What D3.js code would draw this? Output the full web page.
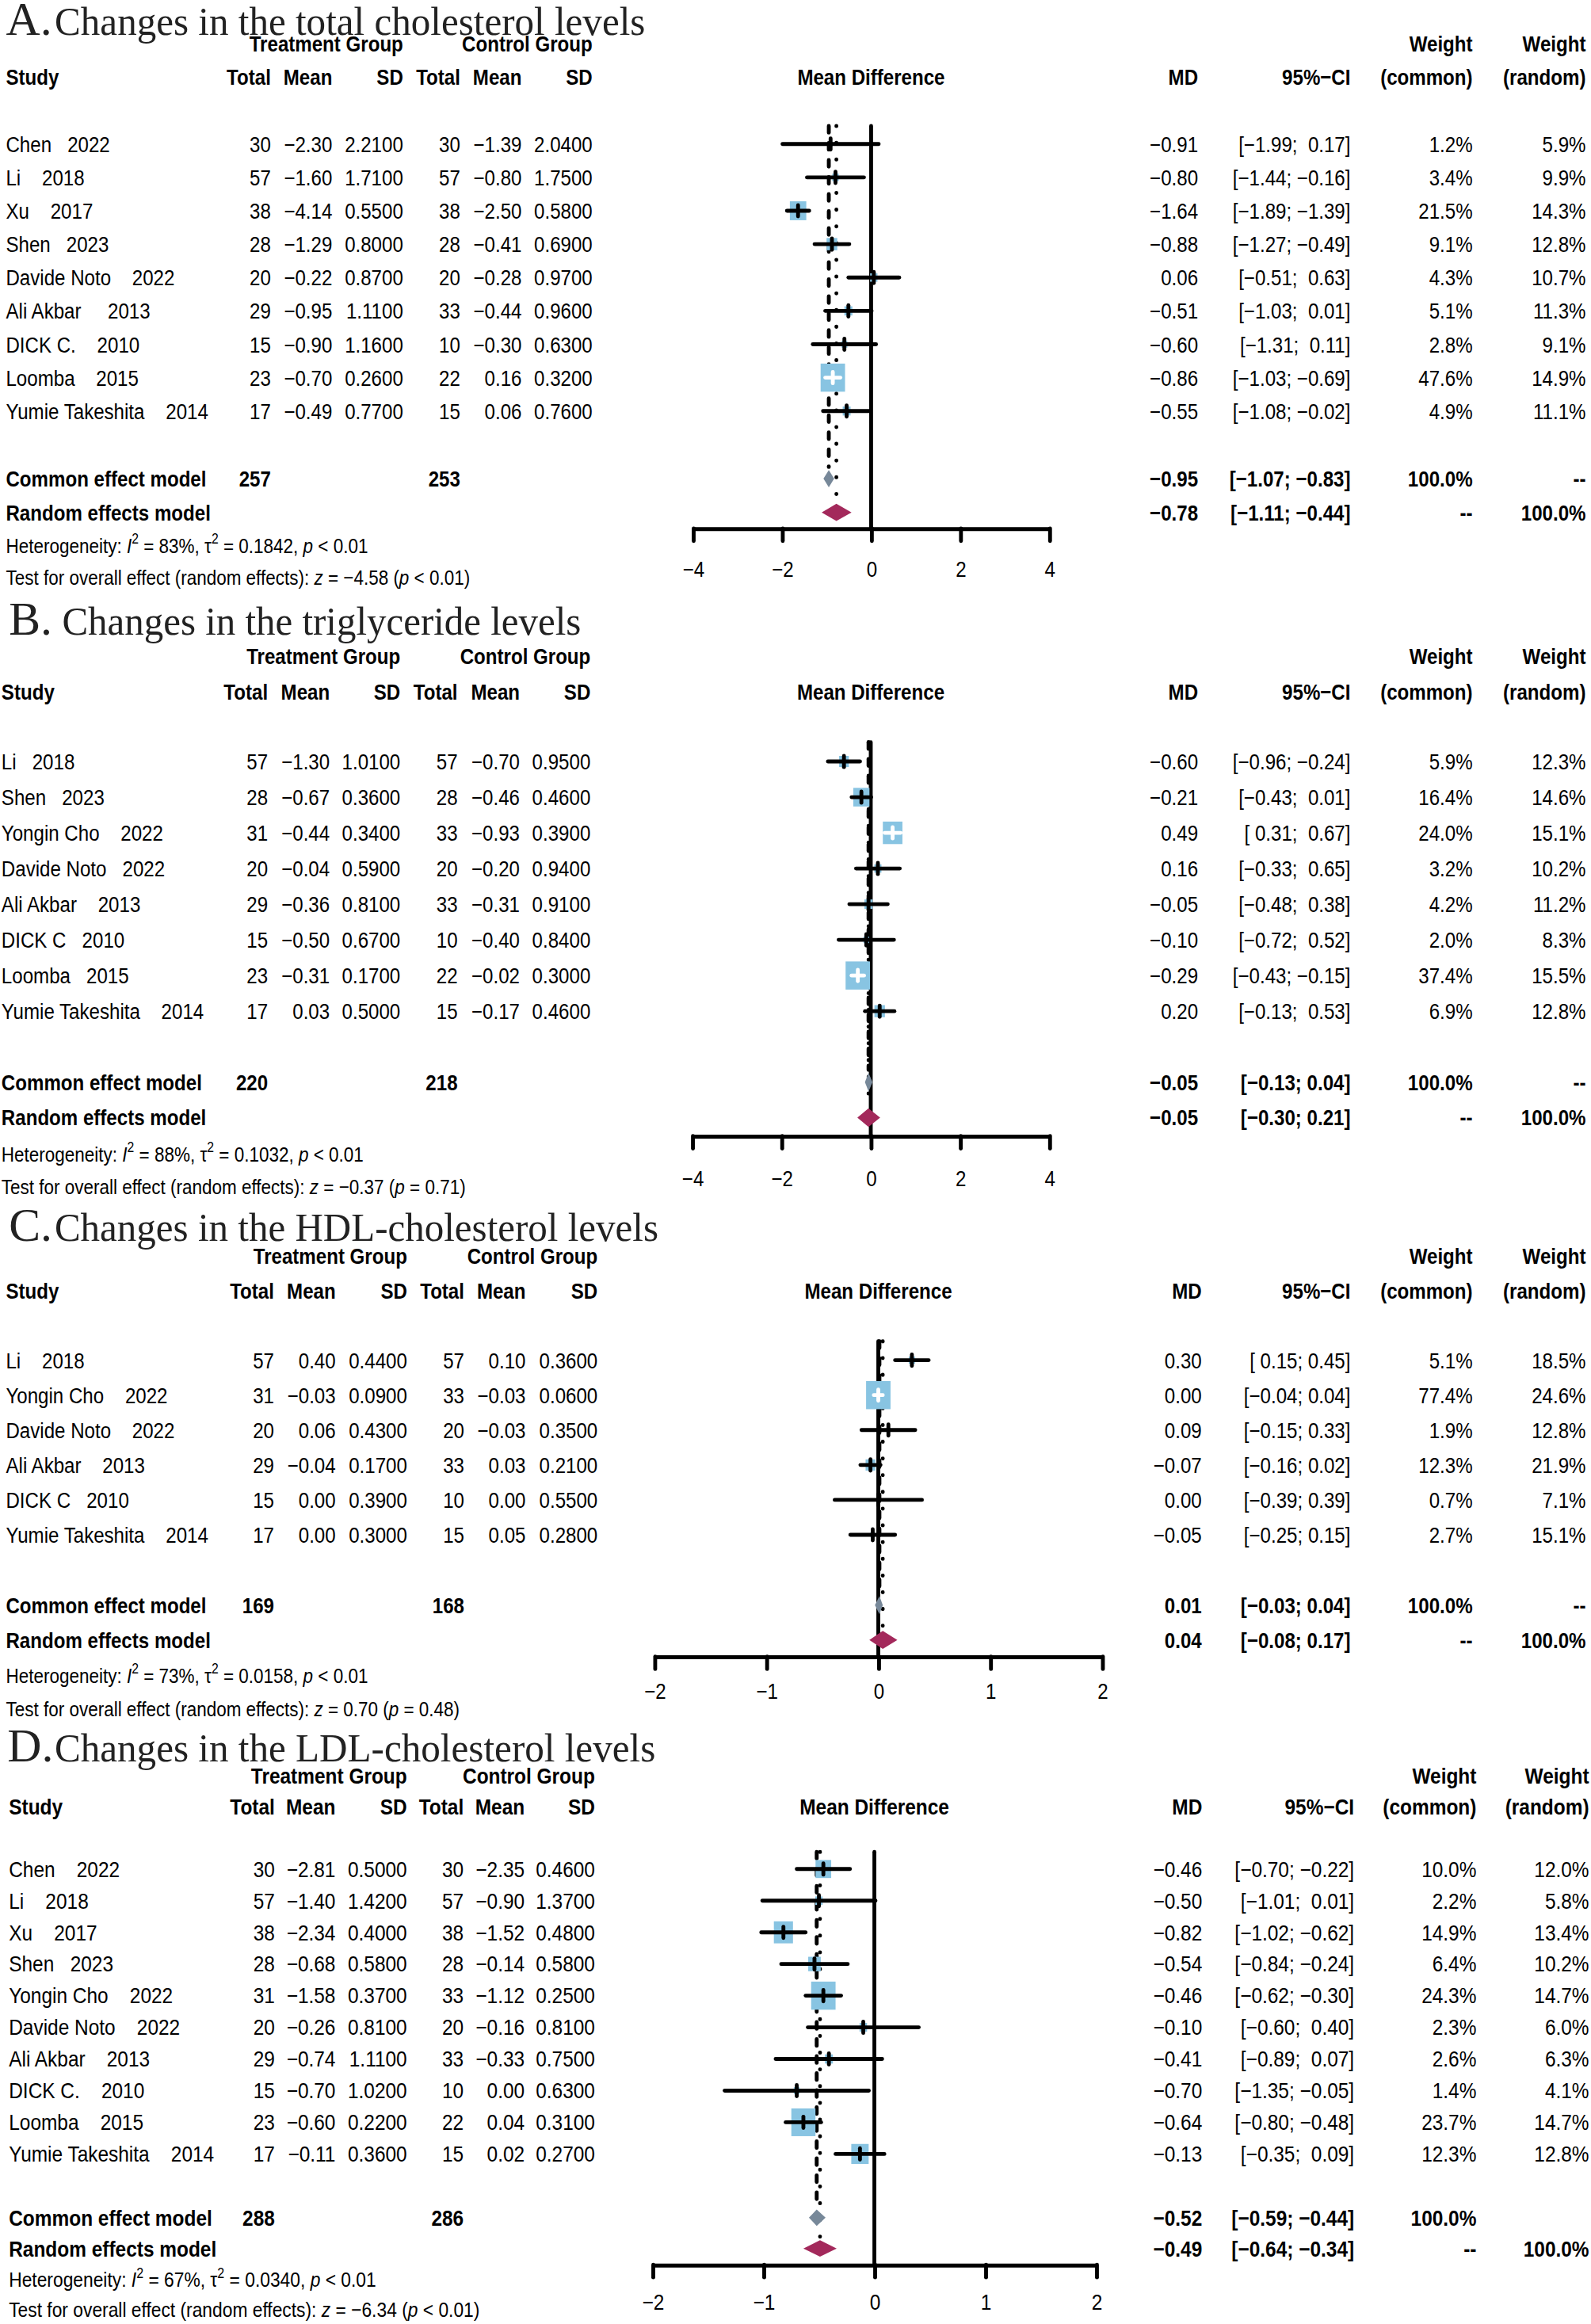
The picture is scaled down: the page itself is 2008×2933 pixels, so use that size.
<!DOCTYPE html>
<html>
<head>
<meta charset="utf-8">
<script src="https://cdn.jsdelivr.net/npm/d3@7"></script>
<style>
  body { margin: 0; background: #fff; }
  text { white-space: pre; }
</style>
</head>
<body>
<div id="chart"></div>
<script>
// ---------- A. total cholesterol ----------
const aStudies = ['Chen   2022', 'Li    2018', 'Xu    2017', 'Shen   2023', 'Davide Noto    2022',
  'Ali Akbar     2013', 'DICK C.    2010', 'Loomba    2015', 'Yumie Takeshita    2014']
const aTN = [30, 57, 38, 28, 20, 29, 15, 23, 17]
const aTMean = [-2.30, -1.60, -4.14, -1.29, -0.22, -0.95, -0.90, -0.70, -0.49]
const aTSD = [2.21, 1.71, 0.55, 0.80, 0.87, 1.11, 1.16, 0.26, 0.77]
const aCN = [30, 57, 38, 28, 20, 33, 10, 22, 15]
const aCMean = [-1.39, -0.80, -2.50, -0.41, -0.28, -0.44, -0.30, 0.16, 0.06]
const aCSD = [2.04, 1.75, 0.58, 0.69, 0.97, 0.96, 0.63, 0.32, 0.76]
const aMD = [-0.91, -0.80, -1.64, -0.88, 0.06, -0.51, -0.60, -0.86, -0.55]
const aLo = [-1.99, -1.44, -1.89, -1.27, -0.51, -1.03, -1.31, -1.03, -1.08]
const aHi = [0.17, -0.16, -1.39, -0.49, 0.63, 0.01, 0.11, -0.69, -0.02]
const aWC = [1.2, 3.4, 21.5, 9.1, 4.3, 5.1, 2.8, 47.6, 4.9]
const aWR = [5.9, 9.9, 14.3, 12.8, 10.7, 11.3, 9.1, 14.9, 11.1]
const aTotals = [257, 253]
const aCommon = [-0.95, -1.07, -0.83]
const aRandom = [-0.78, -1.11, -0.44]
const aHet = ['83%', '0.1842', '< 0.01']
const aTest = [-4.58, '< 0.01']
const aTicks = [-4, -2, 0, 2, 4]

// ---------- B. triglyceride ----------
const bStudies = ['Li   2018', 'Shen   2023', 'Yongin Cho    2022', 'Davide Noto   2022', 'Ali Akbar    2013',
  'DICK C   2010', 'Loomba   2015', 'Yumie Takeshita    2014']
const bTN = [57, 28, 31, 20, 29, 15, 23, 17]
const bTMean = [-1.30, -0.67, -0.44, -0.04, -0.36, -0.50, -0.31, 0.03]
const bTSD = [1.01, 0.36, 0.34, 0.59, 0.81, 0.67, 0.17, 0.50]
const bCN = [57, 28, 33, 20, 33, 10, 22, 15]
const bCMean = [-0.70, -0.46, -0.93, -0.20, -0.31, -0.40, -0.02, -0.17]
const bCSD = [0.95, 0.46, 0.39, 0.94, 0.91, 0.84, 0.30, 0.46]
const bMD = [-0.60, -0.21, 0.49, 0.16, -0.05, -0.10, -0.29, 0.20]
const bLo = [-0.96, -0.43, 0.31, -0.33, -0.48, -0.72, -0.43, -0.13]
const bHi = [-0.24, 0.01, 0.67, 0.65, 0.38, 0.52, -0.15, 0.53]
const bWC = [5.9, 16.4, 24.0, 3.2, 4.2, 2.0, 37.4, 6.9]
const bWR = [12.3, 14.6, 15.1, 10.2, 11.2, 8.3, 15.5, 12.8]
const bTotals = [220, 218]
const bCommon = [-0.05, -0.13, 0.04]
const bRandom = [-0.05, -0.30, 0.21]
const bHet = ['88%', '0.1032', '< 0.01']
const bTest = [-0.37, '= 0.71']
const bTicks = [-4, -2, 0, 2, 4]

// ---------- C. HDL-cholesterol ----------
const cStudies = ['Li    2018', 'Yongin Cho    2022', 'Davide Noto    2022', 'Ali Akbar    2013',
  'DICK C   2010', 'Yumie Takeshita    2014']
const cTN = [57, 31, 20, 29, 15, 17]
const cTMean = [0.40, -0.03, 0.06, -0.04, 0.00, 0.00]
const cTSD = [0.44, 0.09, 0.43, 0.17, 0.39, 0.30]
const cCN = [57, 33, 20, 33, 10, 15]
const cCMean = [0.10, -0.03, -0.03, 0.03, 0.00, 0.05]
const cCSD = [0.36, 0.06, 0.35, 0.21, 0.55, 0.28]
const cMD = [0.30, 0.00, 0.09, -0.07, 0.00, -0.05]
const cLo = [0.15, -0.04, -0.15, -0.16, -0.39, -0.25]
const cHi = [0.45, 0.04, 0.33, 0.02, 0.39, 0.15]
const cWC = [5.1, 77.4, 1.9, 12.3, 0.7, 2.7]
const cWR = [18.5, 24.6, 12.8, 21.9, 7.1, 15.1]
const cTotals = [169, 168]
const cCommon = [0.01, -0.03, 0.04]
const cRandom = [0.04, -0.08, 0.17]
const cHet = ['73%', '0.0158', '< 0.01']
const cTest = [0.70, '= 0.48']
const cTicks = [-2, -1, 0, 1, 2]

// ---------- D. LDL-cholesterol ----------
const dStudies = ['Chen    2022', 'Li    2018', 'Xu    2017', 'Shen   2023', 'Yongin Cho    2022',
  'Davide Noto    2022', 'Ali Akbar    2013', 'DICK C.    2010', 'Loomba    2015', 'Yumie Takeshita    2014']
const dTN = [30, 57, 38, 28, 31, 20, 29, 15, 23, 17]
const dTMean = [-2.81, -1.40, -2.34, -0.68, -1.58, -0.26, -0.74, -0.70, -0.60, -0.11]
const dTSD = [0.50, 1.42, 0.40, 0.58, 0.37, 0.81, 1.11, 1.02, 0.22, 0.36]
const dCN = [30, 57, 38, 28, 33, 20, 33, 10, 22, 15]
const dCMean = [-2.35, -0.90, -1.52, -0.14, -1.12, -0.16, -0.33, 0.00, 0.04, 0.02]
const dCSD = [0.46, 1.37, 0.48, 0.58, 0.25, 0.81, 0.75, 0.63, 0.31, 0.27]
const dMD = [-0.46, -0.50, -0.82, -0.54, -0.46, -0.10, -0.41, -0.70, -0.64, -0.13]
const dLo = [-0.70, -1.01, -1.02, -0.84, -0.62, -0.60, -0.89, -1.35, -0.80, -0.35]
const dHi = [-0.22, 0.01, -0.62, -0.24, -0.30, 0.40, 0.07, -0.05, -0.48, 0.09]
const dWC = [10.0, 2.2, 14.9, 6.4, 24.3, 2.3, 2.6, 1.4, 23.7, 12.3]
const dWR = [12.0, 5.8, 13.4, 10.2, 14.7, 6.0, 6.3, 4.1, 14.7, 12.8]
const dTotals = [288, 286]
const dCommon = [-0.52, -0.59, -0.44]
const dRandom = [-0.49, -0.64, -0.34]
const dHet = ['67%', '0.0340', '< 0.01']
const dTest = [-6.34, '< 0.01']
const dTicks = [-2, -1, 0, 1, 2]

const W = 2008, H = 2933
const S = W / 1075           // layout below is in 1075-wide units
const SANS = "'Liberation Sans', Arial, sans-serif"
const SERIF = "'Liberation Serif', 'Times New Roman', serif"
const BLUE = '#88c4e2', GREY = '#778899', RED = '#a3295b'
const LW = 2.6

const f2 = d3.format('.2f'), f4 = d3.format('.4f'), pct = d => d3.format('.1f')(d) + '%'

const panels = [
  {
    letter: 'A.', title: 'Changes in the total cholesterol levels',
    st: aStudies, tN: aTN, tM: aTMean, tS: aTSD, cN: aCN, cM: aCMean, cS: aCSD,
    md: aMD, lo: aLo, hi: aHi, wc: aWC, wr: aWR, tot: aTotals, com: aCommon, ran: aRandom,
    het: aHet, test: aTest, ticks: aTicks, dom: [-4, 4], comDash: true,
    L: { ty: 23.5, lx: 4, tx: 37, tw: 399, h1: 29.4, h2: 51.7, row0: 97.3, rowH: 22.55,
      yCom: 323.4, yRan: 346.2, yHet: 368.5, yTest: 389.9, axisY: 357, labOff: 27.6, sx0: 4,
      cols: [183, 224.5, 272.4, 311, 352.5, 400.3], rc: [809.5, 912.5, 995, 1071.5],
      xr: [468.2, 709], fs: 15, sx: 0.86 }
  },
  {
    letter: 'B.', title: 'Changes in the triglyceride levels',
    st: bStudies, tN: bTN, tM: bTMean, tS: bTSD, cN: bCN, cM: bCMean, cS: bCSD,
    md: bMD, lo: bLo, hi: bHi, wc: bWC, wr: bWR, tot: bTotals, com: bCommon, ran: bRandom,
    het: bHet, test: bTest, ticks: bTicks, dom: [-4, 4], comDash: true,
    L: { ty: 429, lx: 6, tx: 42, tw: 350.6, h1: 443.2, h2: 467.1, row0: 514.5, rowH: 24.1,
      yCom: 731.2, yRan: 755.1, yHet: 779.8, yTest: 801.9, axisY: 767.5, labOff: 28.6, sx0: 1,
      cols: [181, 222.8, 270.5, 309.2, 351.2, 399], rc: [809.5, 912.5, 995, 1071.5],
      xr: [467.7, 709], fs: 15, sx: 0.86 }
  },
  {
    letter: 'C.', title: 'Changes in the HDL-cholesterol levels',
    st: cStudies, tN: cTN, tM: cTMean, tS: cTSD, cN: cCN, cM: cCMean, cS: cCSD,
    md: cMD, lo: cLo, hi: cHi, wc: cWC, wr: cWR, tot: cTotals, com: cCommon, ran: cRandom,
    het: cHet, test: cTest, ticks: cTicks, dom: [-2, 2], comDash: true,
    L: { ty: 838.5, lx: 6, tx: 36.9, tw: 408, h1: 848.7, h2: 872, row0: 919, rowH: 23.6,
      yCom: 1084.5, yRan: 1108, yHet: 1132, yTest: 1154.5, axisY: 1119.2, labOff: 23.4, sx0: 4,
      cols: [185.2, 226.8, 275.1, 313.7, 355.2, 403.8], rc: [812, 912.5, 995, 1071.5],
      xr: [442.2, 744.7], fs: 15, sx: 0.86 }
  },
  {
    letter: 'D.', title: 'Changes in the LDL-cholesterol levels',
    st: dStudies, tN: dTN, tM: dTMean, tS: dTSD, cN: dCN, cM: dCMean, cS: dCSD,
    md: dMD, lo: dLo, hi: dHi, wc: dWC, wr: dWR, tot: dTotals, com: dCommon, ran: dRandom,
    het: dHet, test: dTest, ticks: dTicks, dom: [-2, 2], comDash: false,
    L: { ty: 1190.2, lx: 5, tx: 36.9, tw: 406, h1: 1199.8, h2: 1220.8, row0: 1262.8, rowH: 21.39,
      yCom: 1498.4, yRan: 1519.2, yHet: 1540.4, yTest: 1560.4, axisY: 1530.2, labOff: 25.2, sx0: 6,
      cols: [185.7, 226.7, 275, 313.3, 354.5, 402], rc: [812.3, 915, 997.6, 1073.7],
      xr: [440.9, 740.7], fs: 14.7, sx: 0.89 }
  }
]

const svg = d3.select('#chart').append('svg')
  .attr('width', W).attr('height', H)
svg.append('rect').attr('width', W).attr('height', H).attr('fill', '#fff')
const root = svg.append('g').attr('transform', `scale(${S})`)

// text centred vertically on y, squeezed horizontally like the narrow font of the figure
function txt (g, x, y, s, o) {
  return g.append('text')
    .attr('transform', `translate(${x},${y + 0.358 * o.fs}) scale(${o.sx},1)`)
    .attr('text-anchor', o.anchor || 'start')
    .attr('font-family', SANS)
    .attr('font-size', o.fs)
    .attr('font-weight', o.bold ? 'bold' : 'normal')
    .attr('fill', '#000')
    .text(s)
}

function ciText (lo, hi, padLo, padHi) {
  return '[' + (padLo && lo >= 0 ? ' ' : '') + f2(lo) + '; ' + (padHi && hi >= 0 ? ' ' : '') + f2(hi) + ']'
}

function drawPanel (p) {
  const L = p.L
  const g = root.append('g')
  const base = { fs: L.fs, sx: L.sx }
  const R = Object.assign({}, base, { anchor: 'end' })
  const RB = Object.assign({}, R, { bold: true })
  const B = Object.assign({}, base, { bold: true })

  // title
  g.append('text').attr('x', L.lx).attr('y', L.ty)
    .attr('font-family', SERIF).attr('font-size', 32).attr('fill', '#222').text(p.letter)
  g.append('text').attr('x', L.tx).attr('y', L.ty)
    .attr('font-family', SERIF).attr('font-size', 27).attr('fill', '#222')
    .attr('textLength', L.tw).attr('lengthAdjust', 'spacingAndGlyphs').text(p.title)

  // column headers
  txt(g, L.cols[2], L.h1, 'Treatment Group', RB)
  txt(g, L.cols[5], L.h1, 'Control Group', RB)
  txt(g, L.rc[2], L.h1, 'Weight', RB)
  txt(g, L.rc[3], L.h1, 'Weight', RB)
  txt(g, L.sx0, L.h2, 'Study', B)
  const heads = ['Total', 'Mean', 'SD', 'Total', 'Mean', 'SD']
  heads.forEach((h, i) => txt(g, L.cols[i], L.h2, h, RB))
  const x = d3.scaleLinear().domain(p.dom).range(L.xr)
  txt(g, (L.xr[0] + L.xr[1]) / 2, L.h2, 'Mean Difference', Object.assign({}, B, { anchor: 'middle' }))
  txt(g, L.rc[0], L.h2, 'MD', RB)
  txt(g, L.rc[1], L.h2, '95%\u2212CI', RB)
  txt(g, L.rc[2], L.h2, '(common)', RB)
  txt(g, L.rc[3], L.h2, '(random)', RB)

  // study rows
  const n = p.st.length
  const y = d3.scaleLinear().domain([0, n - 1]).range([L.row0, L.row0 + (n - 1) * L.rowH])
  const padLo = p.lo.some(v => v < 0), padHi = p.hi.some(v => v < 0)
  p.st.forEach((s, i) => {
    const yy = y(i)
    txt(g, L.sx0, yy, s, base)
    txt(g, L.cols[0], yy, String(p.tN[i]), R)
    txt(g, L.cols[1], yy, f2(p.tM[i]), R)
    txt(g, L.cols[2], yy, f4(p.tS[i]), R)
    txt(g, L.cols[3], yy, String(p.cN[i]), R)
    txt(g, L.cols[4], yy, f2(p.cM[i]), R)
    txt(g, L.cols[5], yy, f4(p.cS[i]), R)
    txt(g, L.rc[0], yy, f2(p.md[i]), R)
    txt(g, L.rc[1], yy, ciText(p.lo[i], p.hi[i], padLo, padHi), R)
    txt(g, L.rc[2], yy, pct(p.wc[i]), R)
    txt(g, L.rc[3], yy, pct(p.wr[i]), R)
  })

  // pooled rows
  txt(g, L.sx0, L.yCom, 'Common effect model', B)
  txt(g, L.cols[0], L.yCom, String(p.tot[0]), RB)
  txt(g, L.cols[3], L.yCom, String(p.tot[1]), RB)
  txt(g, L.rc[0], L.yCom, f2(p.com[0]), RB)
  txt(g, L.rc[1], L.yCom, ciText(p.com[1], p.com[2]), RB)
  txt(g, L.rc[2], L.yCom, '100.0%', RB)
  if (p.comDash) txt(g, L.rc[3], L.yCom, '--', RB)
  txt(g, L.sx0, L.yRan, 'Random effects model', B)
  txt(g, L.rc[0], L.yRan, f2(p.ran[0]), RB)
  txt(g, L.rc[1], L.yRan, ciText(p.ran[1], p.ran[2]), RB)
  txt(g, L.rc[2], L.yRan, '--', RB)
  txt(g, L.rc[3], L.yRan, '100.0%', RB)

  // heterogeneity and overall test
  const sm = { fs: 14 * L.fs / 15, sx: L.sx }
  const sup = sm.fs * 0.45
  const ht = txt(g, L.sx0, L.yHet, null, sm)
  ht.append('tspan').text('Heterogeneity: ')
  ht.append('tspan').attr('font-style', 'italic').text('I')
  ht.append('tspan').attr('font-size', sm.fs * 0.7).attr('dy', -sup).text('2')
  ht.append('tspan').attr('dy', sup).text(' = ' + p.het[0] + ', \u03c4')
  ht.append('tspan').attr('font-size', sm.fs * 0.7).attr('dy', -sup).text('2')
  ht.append('tspan').attr('dy', sup).text(' = ' + p.het[1] + ', ')
  ht.append('tspan').attr('font-style', 'italic').text('p')
  ht.append('tspan').text(' ' + p.het[2])
  const tt = txt(g, L.sx0, L.yTest, null, sm)
  tt.append('tspan').text('Test for overall effect (random effects): ')
  tt.append('tspan').attr('font-style', 'italic').text('z')
  tt.append('tspan').text(' = ' + f2(p.test[0]) + ' (')
  tt.append('tspan').attr('font-style', 'italic').text('p')
  tt.append('tspan').text(' ' + p.test[1] + ')')

  // forest plot
  const fg = g.append('g')
  const top = L.row0 - 0.54 * L.rowH
  const dh = 0.52 * L.rowH
  fg.append('line').attr('x1', x(0)).attr('x2', x(0)).attr('y1', top).attr('y2', L.axisY)
    .attr('stroke', '#000').attr('stroke-width', LW).attr('stroke-linecap', 'round')
  fg.append('line').attr('x1', x(p.com[0])).attr('x2', x(p.com[0]))
    .attr('y1', top).attr('y2', L.yCom - dh / 2 - 2)
    .attr('stroke', '#000').attr('stroke-width', LW).attr('stroke-linecap', 'round')
    .attr('stroke-dasharray', '4.5,7')
  fg.append('line').attr('x1', x(p.ran[0])).attr('x2', x(p.ran[0]))
    .attr('y1', top).attr('y2', L.yRan - dh / 2 - 2)
    .attr('stroke', '#000').attr('stroke-width', LW).attr('stroke-linecap', 'round')
    .attr('stroke-dasharray', '0.1,11.2')

  const sq = d3.scaleSqrt().domain([0, d3.max(p.wc)]).range([0, 1])
  p.st.forEach((s, i) => {
    const yy = y(i), cx = x(p.md[i])
    const w = 16.5 * sq(p.wc[i]), h = 19 * sq(p.wc[i])
    fg.append('rect').attr('x', cx - w / 2).attr('y', yy - h / 2)
      .attr('width', w).attr('height', h).attr('fill', BLUE)
    const inside = x(p.lo[i]) >= cx - w / 2 && x(p.hi[i]) <= cx + w / 2
    const col = inside ? '#fff' : '#000'
    fg.append('line').attr('x1', x(p.lo[i])).attr('x2', x(p.hi[i])).attr('y1', yy).attr('y2', yy)
      .attr('stroke', col).attr('stroke-width', LW).attr('stroke-linecap', 'round')
    fg.append('line').attr('x1', cx).attr('x2', cx).attr('y1', yy - 3.8).attr('y2', yy + 3.8)
      .attr('stroke', col).attr('stroke-width', LW).attr('stroke-linecap', 'round')
  })

  const diamond = (v, yy, fill) => {
    const pts = [[x(v[1]), yy], [x(v[0]), yy - dh / 2], [x(v[2]), yy], [x(v[0]), yy + dh / 2]]
    fg.append('polygon').attr('points', pts.map(d => d.join(',')).join(' ')).attr('fill', fill)
  }
  diamond(p.com, L.yCom, GREY)
  diamond(p.ran, L.yRan, RED)

  // axis
  const tickLen = 8.5
  const axis = d3.axisBottom(x).tickValues(p.ticks).tickFormat(d3.format('d'))
    .tickSize(tickLen).tickSizeOuter(0).tickPadding(L.labOff - tickLen - 0.352 * L.fs)
  const ag = fg.append('g').attr('transform', `translate(0,${L.axisY})`).call(axis)
  ag.select('.domain').attr('stroke', '#000').attr('stroke-width', LW)
  ag.selectAll('.tick line').attr('stroke', '#000').attr('stroke-width', LW).attr('stroke-linecap', 'round')
  ag.selectAll('.tick text').attr('font-family', SANS).attr('font-size', L.fs).attr('fill', '#000')
    .attr('transform', `scale(${L.sx},1)`)
  ag.attr('font-family', null).attr('font-size', null)
}

panels.forEach(drawPanel)
</script>
</body>
</html>
